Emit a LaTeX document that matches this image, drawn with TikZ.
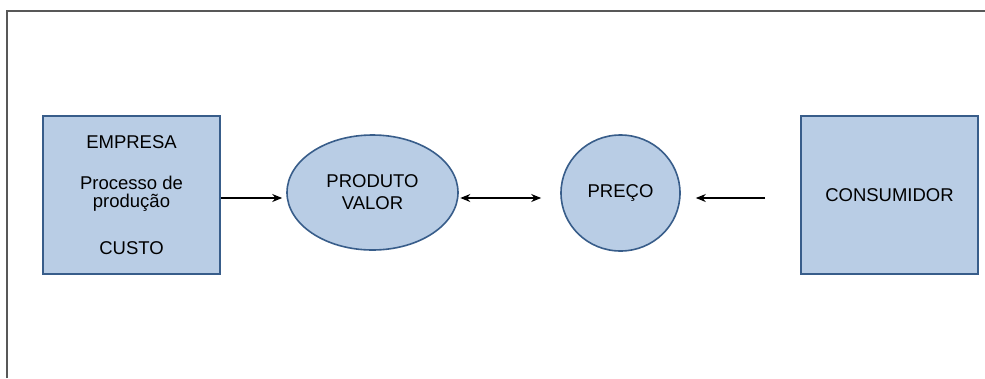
\documentclass[tikz,border=0pt]{standalone}
\usepackage{fontspec}
\setmainfont{Liberation Sans}
\usetikzlibrary{shapes.geometric,arrows.meta}
\definecolor{shapefill}{RGB}{185,205,229}
\definecolor{shapeline}{RGB}{56,93,138}
\definecolor{framegray}{RGB}{88,88,88}
\tikzset{
  shapebase/.style={draw=shapeline, fill=shapefill, line width=1.6pt, inner sep=0pt,
    font=\fontsize{18.5}{18}\selectfont, align=center, text=black},
  boxnode/.style={shapebase, rectangle, minimum width=177pt, minimum height=158pt},
  ellnode/.style={shapebase, ellipse},
  arr/.style={line width=1.3pt, -{Stealth[length=10pt,width=8pt]}},
  darr/.style={line width=1.3pt, {Stealth[length=10pt,width=8pt]}-{Stealth[length=10pt,width=8pt]}},
}
\begin{document}
\begin{tikzpicture}[x=1pt,y=-1pt]
\useasboundingbox (0,0) rectangle (985,378);
\fill[white] (0,0) rectangle (985,378);
% outer frame (cut off at right and bottom)
\coordinate (fbl) at (7,378);
\coordinate (ftl) at (7,11);
\coordinate (ftr) at (985,11);
\draw[framegray, line width=1.8pt] (fbl) -- (ftl) -- (ftr);
% shapes
\node[boxnode] (emp) at (131.5,195) {EMPRESA\\[23pt]Processo de\\produção\\[29pt]CUSTO};
\node[ellnode, minimum width=171pt, minimum height=115pt] (prod) at (372.5,192.5) {PRODUTO\\[4pt]VALOR};
\node[ellnode, minimum width=119pt, minimum height=116pt] (preco) at (620.5,193) {PREÇO};
\node[boxnode] (cons) at (889.5,195) {CONSUMIDOR};
% connectors
\draw[arr, shorten >=4pt] ([yshift=-3pt]emp.east) -- ([yshift=-3pt]emp.east -| prod.west);
\draw[darr, shorten <=1.5pt, shorten >=19pt] ([yshift=-5.5pt]prod.east) -- ([yshift=-5pt]preco.west);
\draw[arr, shorten <=35pt, shorten >=15pt] ([yshift=-3pt]cons.west) -- ([yshift=-3pt]cons.west -| preco.east);
\end{tikzpicture}
\end{document}
